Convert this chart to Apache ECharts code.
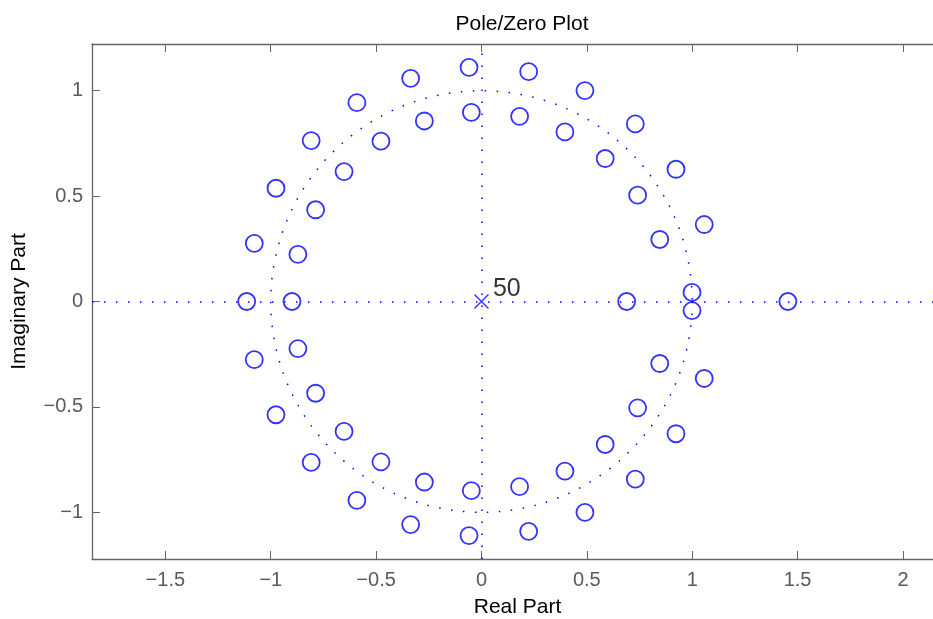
<!DOCTYPE html>
<html>
<head>
<meta charset="utf-8">
<script src="https://cdn.jsdelivr.net/npm/echarts@6/dist/echarts.min.js"></script>
<style>
  html, body { margin: 0; padding: 0; background: #fff; }
  #chart { width: 933px; height: 619px; }
</style>
</head>
<body>
<div id="chart"></div>
<script>
// zeros (real part / imaginary part)
var zeroRe = [
  -1.114, -0.899, 0.689, 1.454,
  -0.059, 0.224, -0.336, 0.491, -0.591, -0.048, 0.181, -0.271, 0.730, 0.396, -0.808, -0.477,
  0.587, -0.652, 0.923, -0.975, 0.741, -0.787, 1.057, -1.078, 0.846, -0.871, 0.999,
  -0.059, 0.224, -0.336, 0.491, -0.591, -0.048, 0.181, -0.271, 0.730, 0.396, -0.808, -0.477,
  0.587, -0.652, 0.923, -0.975, 0.741, -0.787, 1.057, -1.078, 0.846, -0.871, 0.999
];
var zeroIm = [
  0, 0, 0, 0,
  1.110, 1.090, 1.058, 1.000, 0.943, 0.897, 0.878, 0.856, 0.842, 0.804, 0.763, 0.760,
  0.678, 0.616, 0.627, 0.537, 0.504, 0.435, 0.365, 0.276, 0.294, 0.223, 0.043,
  -1.110, -1.090, -1.058, -1.000, -0.943, -0.897, -0.878, -0.856, -0.842, -0.804, -0.763, -0.760,
  -0.678, -0.616, -0.627, -0.537, -0.504, -0.435, -0.365, -0.276, -0.294, -0.223, -0.043
];
// pole at the origin, multiplicity 50
var polePoints = [[0, 0]];
var poleCount = '50';
var unitRadius = 1;

var xTicks = [-1.5, -1, -0.5, 0, 0.5, 1, 1.5, 2];
var yTicks = [-1, -0.5, 0, 0.5, 1];

var zeroData = zeroRe.map(function (re, i) { return [re, zeroIm[i]]; });

function fmt(v) {
  return String(v).replace('-', '\u2212');
}

var blue = '#0000ff';
var axisGray = '#666666';
var dotted = [1.5, 10.5];

var myChart = echarts.init(document.getElementById('chart'));
var option = {
  animation: false,
  backgroundColor: '#ffffff',
  textStyle: { fontFamily: 'Liberation Sans, Arial, sans-serif' },
  title: {
    text: 'Pole/Zero Plot',
    left: 517,
    top: 9,
    textAlign: 'center',
    textStyle: { fontSize: 21, fontWeight: 'normal', color: '#000000' }
  },
  grid: {
    left: 92, right: -10, top: 44, bottom: 60,
    containLabel: false,
    outerBoundsMode: 'none'
  },
  xAxis: [
    {
      type: 'value',
      min: -1.848,
      max: 2.19,
      name: 'Real Part',
      nameLocation: 'middle',
      nameGap: 38,
      nameTextStyle: { fontSize: 21, color: '#000000' },
      axisLine: { show: true, onZero: false, lineStyle: { color: axisGray, width: 1.3 } },
      axisTick: { show: true, inside: true, length: 8, customValues: xTicks, lineStyle: { color: axisGray } },
      axisLabel: { customValues: xTicks, margin: 11, fontSize: 20, color: '#5a5a5a', formatter: fmt },
      splitLine: { show: false }
    },
    {
      type: 'value',
      position: 'top',
      min: -1.848,
      max: 2.19,
      axisLine: { show: true, onZero: false, lineStyle: { color: axisGray, width: 1.3 } },
      axisTick: { show: true, inside: true, length: 8, customValues: xTicks, lineStyle: { color: axisGray } },
      axisLabel: { show: false },
      splitLine: { show: false }
    }
  ],
  yAxis: {
    type: 'value',
    min: -1.221,
    max: 1.221,
    name: 'Imaginary Part',
    nameLocation: 'middle',
    nameGap: 62,
    nameTextStyle: { fontSize: 21, color: '#000000' },
    axisLine: { show: true, onZero: false, lineStyle: { color: axisGray, width: 1.3 } },
    axisTick: { show: true, inside: true, length: 8, customValues: yTicks, lineStyle: { color: axisGray } },
    axisLabel: { customValues: yTicks, margin: 9, fontSize: 20, color: '#5a5a5a', formatter: fmt },
    splitLine: { show: false }
  },
  series: [
    {
      // dotted unit circle
      type: 'custom',
      silent: true,
      data: [[0, 0, unitRadius]],
      renderItem: function (params, api) {
        var c = api.coord([api.value(0), api.value(1)]);
        var r = api.size([api.value(2), 0])[0];
        return {
          type: 'circle',
          shape: { cx: c[0], cy: c[1], r: r },
          style: { fill: 'none', stroke: blue, lineWidth: 1.5, lineDash: dotted }
        };
      },
      z: 1
    },
    {
      name: 'Zeros',
      type: 'scatter',
      symbol: 'circle',
      symbolSize: 17,
      itemStyle: { color: 'rgba(0,0,0,0)', borderColor: blue, borderWidth: 1.8 },
      data: zeroData,
      z: 3
    },
    {
      name: 'Poles',
      type: 'scatter',
      symbol: 'path://M0,0L10,10M10,0L0,10',
      symbolSize: 14,
      itemStyle: { color: 'none', borderColor: blue, borderWidth: 1.4 },
      label: {
        show: true,
        formatter: poleCount,
        position: [21, -15],
        align: 'left',
        verticalAlign: 'top',
        fontSize: 25,
        color: '#000000'
      },
      markLine: {
        silent: true,
        symbol: ['none', 'none'],
        label: { show: false },
        lineStyle: { color: blue, width: 1.5, type: dotted },
        data: [{ yAxis: 0 }, { xAxis: 0 }]
      },
      data: polePoints,
      z: 4
    }
  ]
};
myChart.setOption(option);
</script>
</body>
</html>
